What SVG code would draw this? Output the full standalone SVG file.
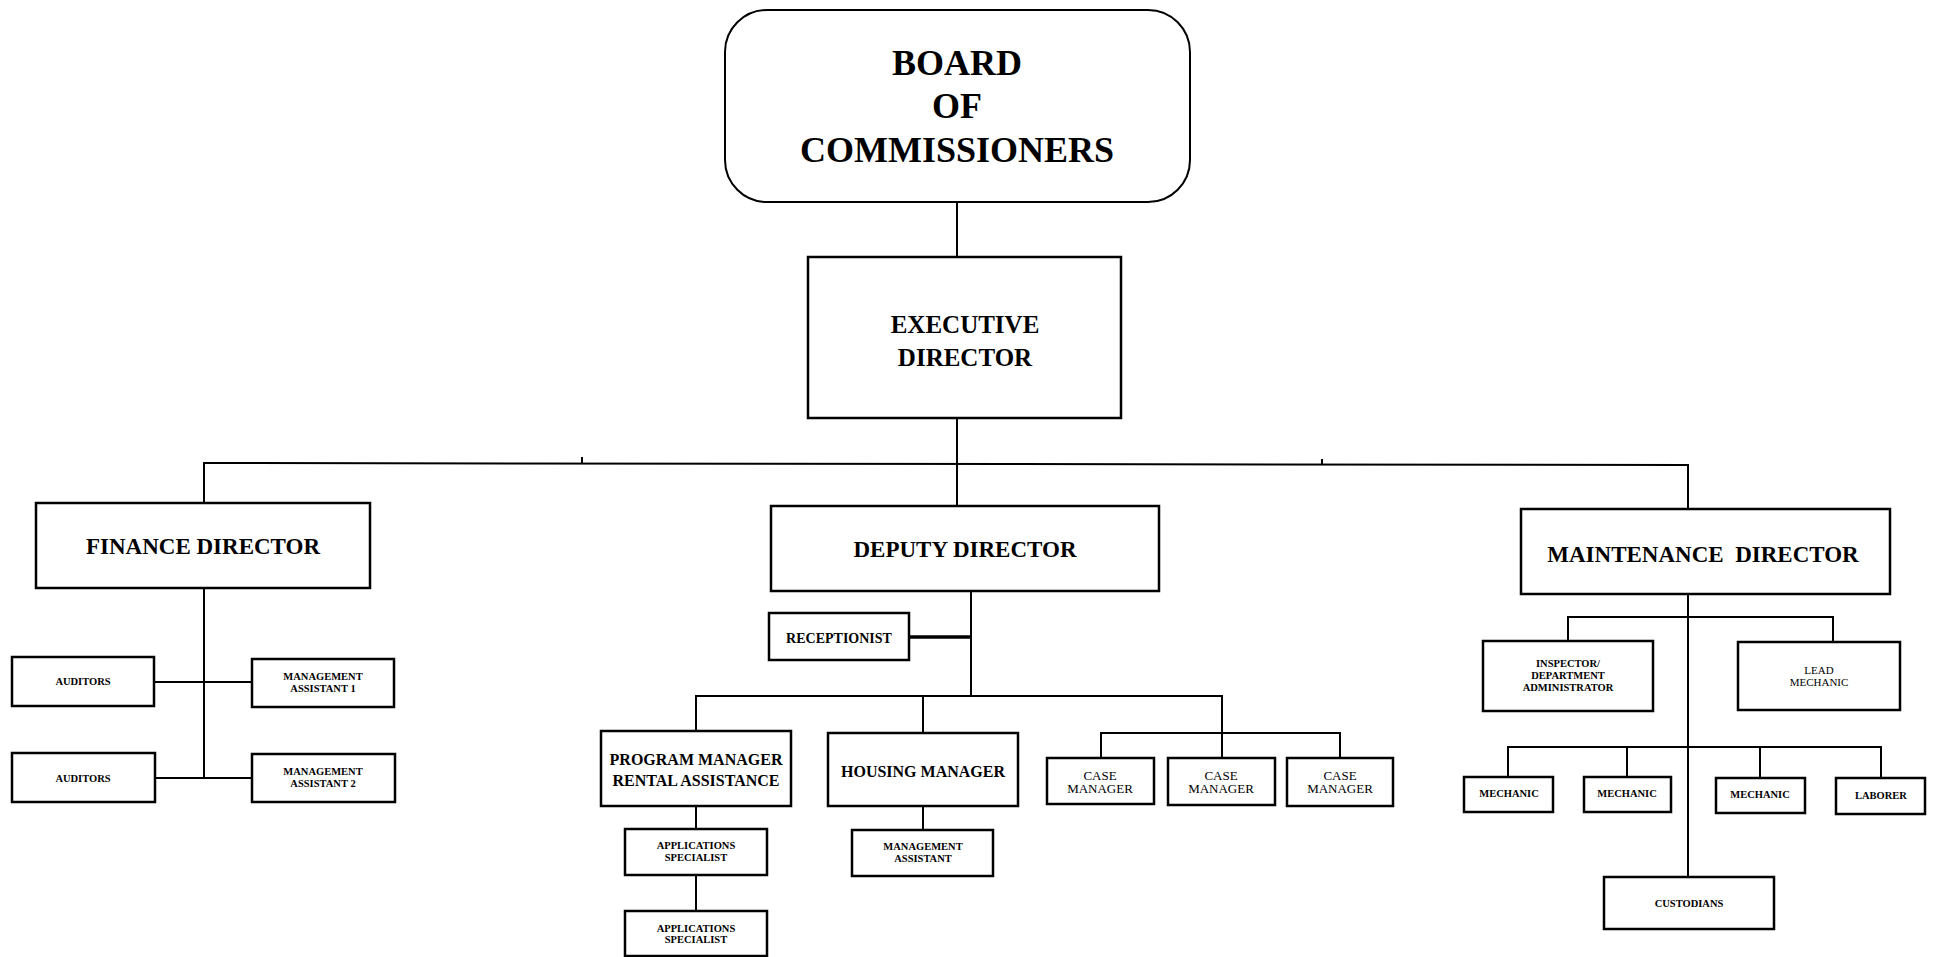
<svg xmlns="http://www.w3.org/2000/svg" width="1934" height="957" viewBox="0 0 1934 957">
<style>
  .box { fill: #fff; stroke: #000; stroke-width: 2.5; }
  .conn { fill: none; stroke: #000; stroke-width: 2; }
  text { font-family: "Liberation Serif", "Times New Roman", serif; fill: #000; text-anchor: middle; }
  .t36 { font-size: 36px; font-weight: bold; }
  .t25 { font-size: 25px; font-weight: bold; }
  .t23 { font-size: 23px; font-weight: bold; }
  .t16 { font-size: 16px; font-weight: bold; }
  .t14 { font-size: 14px; font-weight: bold; }
  .sm { font-size: 10.5px; font-weight: bold; }
  .cm { font-size: 13px; }
  .lm { font-size: 11px; }
</style>
<rect width="1934" height="957" fill="#fff"/>
<g id="connectors">
  <path class="conn" d="M957 202 V257"/>
  <path class="conn" d="M957 418 V506"/>
  <path class="conn" d="M204 503 V463 L1688 465 V509"/>
  <path class="conn" d="M582 457 V463 M1322 459 V465"/>
  <path class="conn" d="M204 588 V778"/>
  <path class="conn" d="M154 682 H252 M155 778 H252"/>
  <path class="conn" d="M971 591 V696"/>
  <path class="conn" style="stroke-width:3.5" d="M909 637 H971"/>
  <path class="conn" d="M696 731 V696 H1222 V758"/>
  <path class="conn" d="M923 696 V733"/>
  <path class="conn" d="M1101 758 V733 H1340 V758"/>
  <path class="conn" d="M696 806 V829 M696 875 V911"/>
  <path class="conn" d="M923 806 V830"/>
  <path class="conn" d="M1688 594 V877"/>
  <path class="conn" d="M1568 641 V617 H1833 V642"/>
  <path class="conn" d="M1508 777 V747 H1881 V778 M1627 747 V777 M1760 747 V778"/>
</g>
<g id="board">
  <rect class="box" style="stroke-width:2" x="725" y="10" width="465" height="192" rx="42" ry="42"/>
  <text class="t36" x="957" y="75">BOARD</text>
  <text class="t36" x="957" y="118">OF</text>
  <text class="t36" x="957" y="162">COMMISSIONERS</text>
</g>
<g id="executive">
  <rect class="box" x="808" y="257" width="313" height="161"/>
  <text class="t25" x="965" y="333">EXECUTIVE</text>
  <text class="t25" x="965" y="366">DIRECTOR</text>
</g>
<g id="finance">
  <rect class="box" x="36" y="503" width="334" height="85"/>
  <text class="t23" x="203" y="554">FINANCE DIRECTOR</text>
</g>
<g id="auditors1">
  <rect class="box" x="12" y="657" width="142" height="49"/>
  <text class="sm" x="83" y="685">AUDITORS</text>
</g>
<g id="auditors2">
  <rect class="box" x="12" y="753" width="143" height="49"/>
  <text class="sm" x="83" y="782">AUDITORS</text>
</g>
<g id="mgmt-assistant1">
  <rect class="box" x="252" y="659" width="142" height="48"/>
  <text class="sm" x="323" y="680">MANAGEMENT</text>
  <text class="sm" x="323" y="692">ASSISTANT 1</text>
</g>
<g id="mgmt-assistant2">
  <rect class="box" x="252" y="754" width="143" height="48"/>
  <text class="sm" x="323" y="775">MANAGEMENT</text>
  <text class="sm" x="323" y="787">ASSISTANT 2</text>
</g>
<g id="deputy">
  <rect class="box" x="771" y="506" width="388" height="85"/>
  <text class="t23" x="965" y="557">DEPUTY DIRECTOR</text>
</g>
<g id="receptionist">
  <rect class="box" x="769" y="613" width="140" height="47"/>
  <text class="t14" x="839" y="643">RECEPTIONIST</text>
</g>
<g id="program-manager">
  <rect class="box" x="601" y="731" width="190" height="75"/>
  <text class="t16" x="696" y="765">PROGRAM MANAGER</text>
  <text class="t16" x="696" y="786">RENTAL ASSISTANCE</text>
</g>
<g id="housing-manager">
  <rect class="box" x="828" y="733" width="190" height="73"/>
  <text class="t16" x="923" y="777">HOUSING MANAGER</text>
</g>
<g id="app-specialist1">
  <rect class="box" x="625" y="829" width="142" height="46"/>
  <text class="sm" x="696" y="849">APPLICATIONS</text>
  <text class="sm" x="696" y="861">SPECIALIST</text>
</g>
<g id="app-specialist2">
  <rect class="box" x="625" y="911" width="142" height="45"/>
  <text class="sm" x="696" y="932">APPLICATIONS</text>
  <text class="sm" x="696" y="943">SPECIALIST</text>
</g>
<g id="mgmt-assistant">
  <rect class="box" x="852" y="830" width="141" height="46"/>
  <text class="sm" x="923" y="850">MANAGEMENT</text>
  <text class="sm" x="923" y="862">ASSISTANT</text>
</g>
<g id="case-manager1">
  <rect class="box" x="1047" y="758" width="107" height="46"/>
  <text class="cm" x="1100" y="780">CASE</text>
  <text class="cm" x="1100" y="793">MANAGER</text>
</g>
<g id="case-manager2">
  <rect class="box" x="1168" y="758" width="107" height="47"/>
  <text class="cm" x="1221" y="780">CASE</text>
  <text class="cm" x="1221" y="793">MANAGER</text>
</g>
<g id="case-manager3">
  <rect class="box" x="1287" y="758" width="106" height="48"/>
  <text class="cm" x="1340" y="780">CASE</text>
  <text class="cm" x="1340" y="793">MANAGER</text>
</g>
<g id="maintenance">
  <rect class="box" x="1521" y="509" width="369" height="85"/>
  <text class="t23" x="1703" y="562" xml:space="preserve">MAINTENANCE  DIRECTOR</text>
</g>
<g id="inspector">
  <rect class="box" x="1483" y="641" width="170" height="70"/>
  <text class="sm" x="1568" y="667">INSPECTOR/</text>
  <text class="sm" x="1568" y="679">DEPARTMENT</text>
  <text class="sm" x="1568" y="691">ADMINISTRATOR</text>
</g>
<g id="lead-mechanic">
  <rect class="box" x="1738" y="642" width="162" height="68"/>
  <text class="lm" x="1819" y="674">LEAD</text>
  <text class="lm" x="1819" y="686">MECHANIC</text>
</g>
<g id="mechanic1">
  <rect class="box" x="1464" y="777" width="89" height="35"/>
  <text class="sm" x="1509" y="797">MECHANIC</text>
</g>
<g id="mechanic2">
  <rect class="box" x="1584" y="777" width="87" height="35"/>
  <text class="sm" x="1627" y="797">MECHANIC</text>
</g>
<g id="mechanic3">
  <rect class="box" x="1716" y="778" width="89" height="35"/>
  <text class="sm" x="1760" y="798">MECHANIC</text>
</g>
<g id="laborer">
  <rect class="box" x="1836" y="778" width="89" height="36"/>
  <text class="sm" x="1881" y="799">LABORER</text>
</g>
<g id="custodians">
  <rect class="box" x="1604" y="877" width="170" height="52"/>
  <text class="sm" x="1689" y="907">CUSTODIANS</text>
</g>
</svg>
